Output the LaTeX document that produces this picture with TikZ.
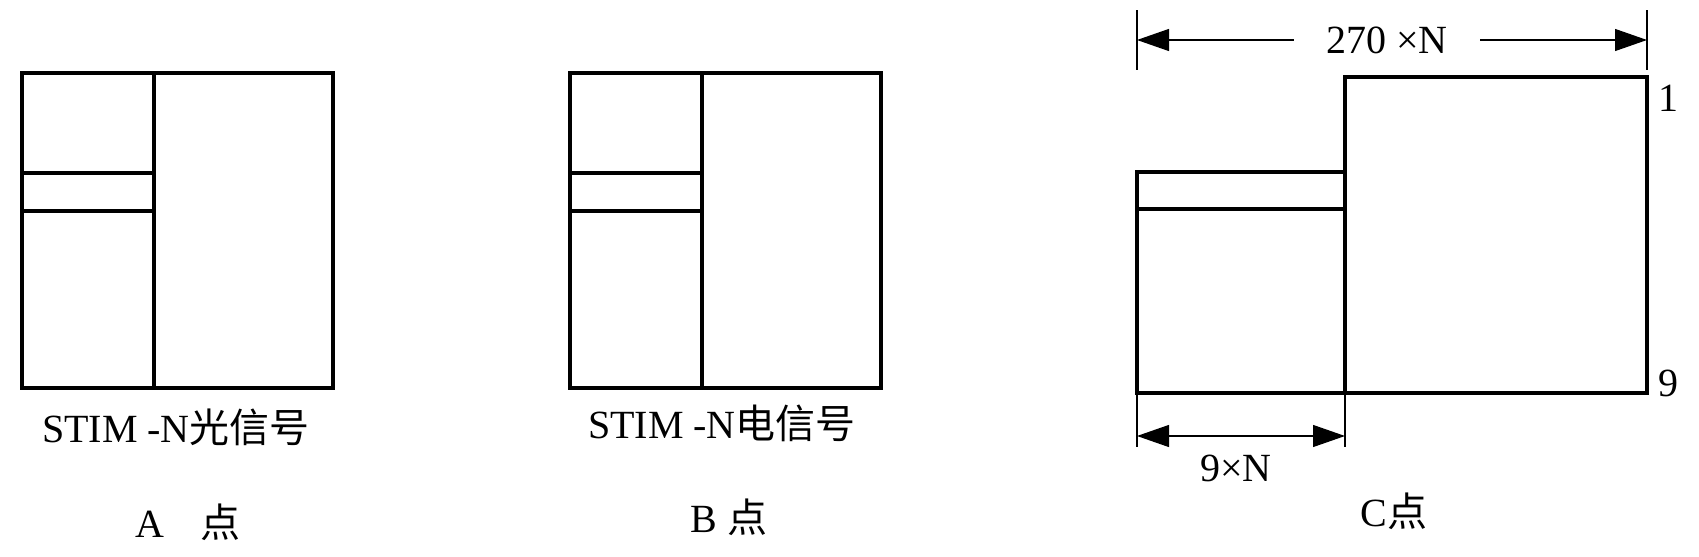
\documentclass[tikz,border=0pt]{standalone}
\usepackage{fontspec}
\setmainfont{Liberation Serif}
\newfontfamily\cjk{Noto Sans CJK SC}
\usetikzlibrary{arrows.meta}

\begin{document}
\begin{tikzpicture}[x=0.5pt, y=-0.5pt,
    frame/.style = {line width = 1.8pt, line join = miter},
    tick/.style = {line width = 1.4pt},
    dim/.style = {line width = 0.6pt, -{Triangle[length = 16pt, width = 11pt]}},
    lbl/.style = {inner sep = 0pt, font = \fontsize{20}{24}\selectfont}]
  \useasboundingbox (0,0) rectangle (1699,557);
  % A and B frames
  \foreach \dx/\name in {0/A, 548/B} {
    \draw[frame] (22+\dx,73) rectangle (333+\dx,388);
    \draw[frame] (154+\dx,73) -- (154+\dx,388);
    \draw[frame] (22+\dx,173) -- (154+\dx,173)
                 (22+\dx,211) -- (154+\dx,211);
  }
  \node[lbl] (sigA) at (176,427) {STIM -N{\cjk 光信号}};
  \node[lbl] (ptA) at (188,522) {A\hspace{0.9em}{\cjk 点}};
  \node[lbl] (sigB) at (722,423) {STIM -N{\cjk 电信号}};
  \node[lbl] (ptB) at (729,517) {B {\cjk 点}};
  % C frame
  \draw[frame] (1345,393) -- (1137,393) -- (1137,172) -- (1345,172);
  \draw[frame] (1137,209) -- (1345,209);
  \draw[frame] (1345,393) rectangle (1647,77);
  \node[lbl] (row1) at (1668,98) {1};
  \node[lbl] (row9) at (1668,383) {9};
  % dimensions
  \coordinate (topL) at (1137,40);
  \coordinate (topR) at (1647,40);
  \coordinate (botL) at (1137,436);
  \coordinate (botR) at (1345,436);
  \draw[tick] (1137,10) -- (1137,70)
              (1647,10) -- (1647,70)
              (1137,393) -- (1137,447)
              (1345,393) -- (1345,447);
  \node[lbl, inner xsep = 16pt] (width) at (1387,40) {270 ×N};
  \draw[dim] (width) -- (topL);
  \draw[dim] (width) -- (topR);
  \draw[dim, {Triangle[length = 16pt, width = 11pt]}-{Triangle[length = 16pt, width = 11pt]}] (botL) -- (botR);
  \node[lbl] (oh) at (1236,468) {9×N};
  \node[lbl] (ptC) at (1394,511) {C{\cjk 点}};
\end{tikzpicture}
\end{document}
